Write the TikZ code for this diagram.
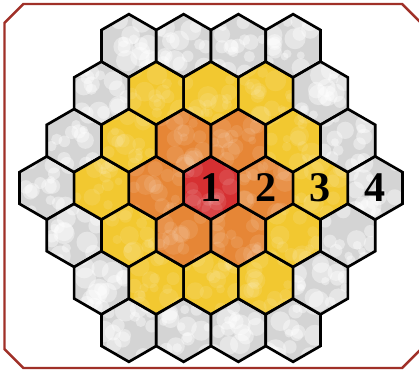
\documentclass[tikz,border=0pt]{standalone}
\usepackage{fontspec}
\setmainfont{Liberation Serif}
\definecolor{cell0}{RGB}{214,48,50}
\definecolor{cell1}{RGB}{230,134,54}
\definecolor{cell2}{RGB}{242,200,48}
\definecolor{cell3}{RGB}{212,212,212}
\definecolor{framered}{RGB}{160,48,40}
\tikzset{
  hexcell/.style={draw=black, line width=2.4pt,
    path picture={\foreach \k in {1,...,16}{
      \fill[white,opacity=\spot] ([shift={(rand*0.8,rand*0.85)}]path picture bounding box.center) circle (0.12+0.22*rnd);}}},
  digit/.style={font=\fontsize{38}{38}\selectfont\bfseries, inner sep=0pt},
  borderline/.style={draw=framered, line width=2.2pt}
}
\begin{document}
\begin{tikzpicture}
  \useasboundingbox (-6.677,-5.759) rectangle (6.582,5.949);
  \pgfmathsetseed{42}
  % cells, coloured by their distance from the centre
  \foreach \col in {-3,...,3}{
    \foreach \row in {-3,...,3}{
      \pgfmathtruncatemacro\d{max(abs(\col),abs(\row),abs(\col+\row))}
      \pgfmathsetmacro\spot{\d==3 ? 0.4 : 0.1}
      \ifnum\d<4
        \coordinate (hex\col_\row) at ({sqrt(3)*(\col+\row/2)},{-1.5*\row});
        \draw[hexcell, fill=cell\d, shift={(hex\col_\row)}]
          (90:1) -- (150:1) -- (210:1) -- (270:1) -- (330:1) -- (30:1) -- cycle;
      \fi
    }
  }
  % ring numbers along the middle row
  \foreach \n in {1,...,4}{
    \pgfmathtruncatemacro\k{\n-1}
    \node[digit] (num\n) at (hex\k_0) {\n};
  }
  % outer frame
  \draw[borderline] (-6.535,5.223) -- (-5.935,5.823) -- (6.046,5.823) -- (6.646,5.223)
    -- (6.646,-5.096) -- (6.046,-5.696) -- (-5.935,-5.696) -- (-6.535,-5.096) -- cycle;
\end{tikzpicture}
\end{document}
